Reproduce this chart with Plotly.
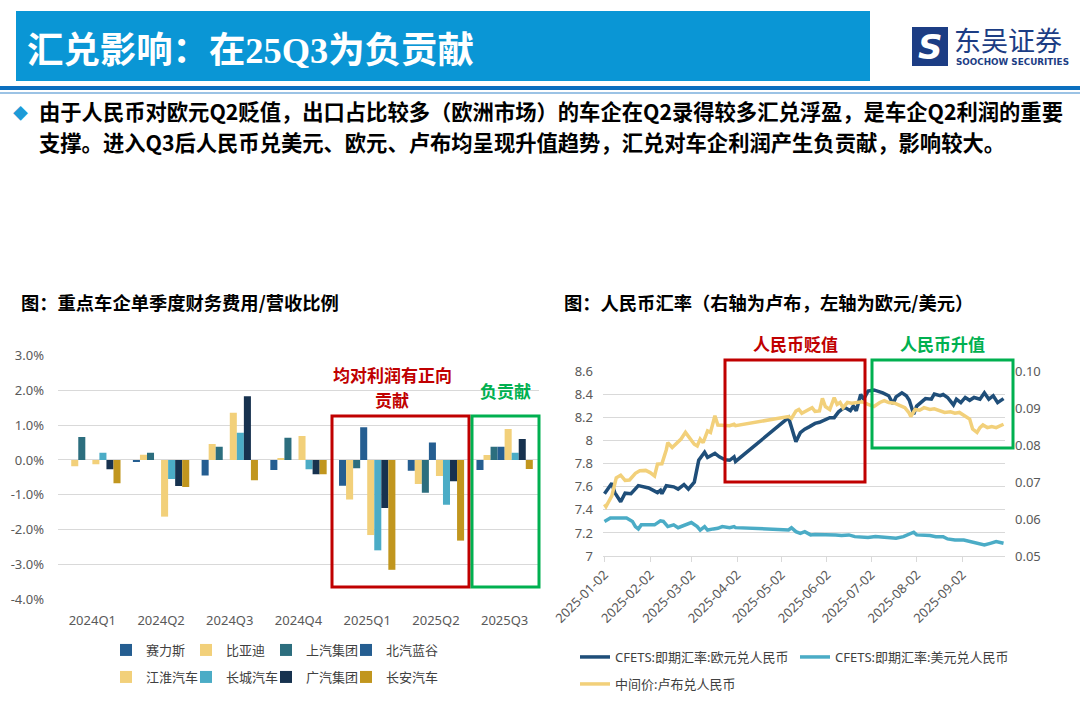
import plotly.graph_objects as go

W, H = 1080, 723

# ---- left chart: financial expense / revenue by quarter (%) ----
quarters = ['2024Q1', '2024Q2', '2024Q3', '2024Q4', '2025Q1', '2025Q2', '2025Q3']
companies = ['赛力斯', '比亚迪', '上汽集团', '北汽蓝谷', '江淮汽车', '长城汽车', '广汽集团', '长安汽车']
seres = [None, -0.06, -0.45, -0.29, -0.74, -0.31, -0.29]
byd = [-0.18, 0.15, 0.46, 0.06, -1.14, -0.69, 0.14]
saic = [0.66, 0.21, 0.38, 0.64, -0.24, -0.94, 0.38]
baic_bluepark = [None, None, None, None, 0.94, 0.50, 0.38]
jac = [-0.12, -1.63, 1.36, 0.69, -2.16, -0.46, 0.89]
great_wall = [0.21, -0.55, 0.78, -0.27, -2.60, -1.29, 0.21]
gac = [-0.27, -0.75, 1.83, -0.41, -1.38, -0.61, 0.60]
changan = [-0.67, -0.78, -0.58, -0.41, -3.16, -2.32, -0.26]
bar_series = [seres, byd, saic, baic_bluepark, jac, great_wall, gac, changan]
bar_colors = ['#255E91', '#F2D07A', '#2C6E7E', '#255E91',
              '#F2D07A', '#4BACC6', '#17324F', '#C1961E']
pct_ticks = [-4, -3, -2, -1, 0, 1, 2, 3]
pct_labels = ['-4.0%', '-3.0%', '-2.0%', '-1.0%', '0.0%', '1.0%', '2.0%', '3.0%']

# ---- right chart: CNY exchange rates ----
eur_dates = ['2025-01-02', '2025-01-07', '2025-01-09', '2025-01-13', '2025-01-16', '2025-01-20',
             '2025-01-25', '2025-02-01', '2025-02-07', '2025-02-09', '2025-02-10', '2025-02-13',
             '2025-02-18', '2025-02-21', '2025-02-25', '2025-02-28', '2025-03-04', '2025-03-07',
             '2025-03-11', '2025-03-13', '2025-03-18', '2025-03-21', '2025-03-25', '2025-03-28',
             '2025-03-31', '2025-04-01', '2025-05-07', '2025-05-12', '2025-05-15', '2025-05-18',
             '2025-05-21', '2025-05-25', '2025-05-28', '2025-06-01', '2025-06-04', '2025-06-07',
             '2025-06-10', '2025-06-14', '2025-06-18', '2025-06-20', '2025-06-22', '2025-06-25',
             '2025-06-27', '2025-06-30', '2025-07-04', '2025-07-10', '2025-07-14', '2025-07-17',
             '2025-07-19', '2025-07-23', '2025-07-26', '2025-07-28', '2025-07-31', '2025-08-02',
             '2025-08-05', '2025-08-08', '2025-08-12', '2025-08-14', '2025-08-18', '2025-08-20',
             '2025-08-23', '2025-08-27', '2025-08-29', '2025-09-01', '2025-09-04', '2025-09-07',
             '2025-09-10', '2025-09-14', '2025-09-17', '2025-09-20', '2025-09-23', '2025-09-26',
             '2025-09-30']
eur_values = [7.54, 7.63, 7.55, 7.47, 7.545, 7.54,
              7.61, 7.59, 7.55, 7.57, 7.54, 7.61,
              7.60, 7.58, 7.62, 7.58, 7.64, 7.83,
              7.90, 7.855, 7.89, 7.86, 7.835, 7.83,
              7.86, 7.82, 8.20, 7.99, 8.07, 8.10,
              8.12, 8.15, 8.16, 8.18, 8.20, 8.20,
              8.25, 8.29, 8.26, 8.30, 8.26, 8.40,
              8.36, 8.43, 8.44, 8.415, 8.39, 8.32,
              8.38, 8.415, 8.39, 8.35, 8.23, 8.30,
              8.33, 8.365, 8.36, 8.405, 8.39, 8.40,
              8.375, 8.31, 8.36, 8.33, 8.375, 8.35,
              8.375, 8.36, 8.415, 8.36, 8.39, 8.33,
              8.365]

usd_dates = ['2025-01-02', '2025-01-06', '2025-01-11', '2025-01-17', '2025-01-21', '2025-01-23',
             '2025-01-25', '2025-01-27', '2025-02-01', '2025-02-05', '2025-02-09', '2025-02-11',
             '2025-02-14', '2025-02-18', '2025-02-21', '2025-02-26', '2025-03-02', '2025-03-06',
             '2025-03-08', '2025-03-11', '2025-03-13', '2025-03-17', '2025-03-20', '2025-03-23',
             '2025-03-28', '2025-03-31', '2025-04-01', '2025-05-07', '2025-05-09', '2025-05-12',
             '2025-05-15', '2025-05-18', '2025-05-22', '2025-05-25', '2025-05-30', '2025-06-03',
             '2025-06-08', '2025-06-12', '2025-06-17', '2025-06-21', '2025-06-26', '2025-06-30',
             '2025-07-05', '2025-07-12', '2025-07-19', '2025-07-24', '2025-07-27', '2025-07-31',
             '2025-08-02', '2025-08-06', '2025-08-11', '2025-08-15', '2025-08-20', '2025-08-23',
             '2025-08-28', '2025-09-03', '2025-09-08', '2025-09-14', '2025-09-17', '2025-09-21',
             '2025-09-25', '2025-09-30']
usd_values = [7.30, 7.33, 7.33, 7.33, 7.30, 7.255,
              7.235, 7.27, 7.27, 7.27, 7.305, 7.30,
              7.255, 7.27, 7.245, 7.27, 7.29, 7.255,
              7.225, 7.255, 7.225, 7.235, 7.24, 7.255,
              7.245, 7.255, 7.246, 7.226, 7.245, 7.211,
              7.197, 7.211, 7.183, 7.186, 7.186, 7.183,
              7.183, 7.177, 7.183, 7.168, 7.16, 7.16,
              7.168, 7.16, 7.154, 7.168, 7.183, 7.206,
              7.183, 7.183, 7.177, 7.168, 7.168, 7.148,
              7.139, 7.139, 7.125, 7.11, 7.096, 7.11,
              7.125, 7.11]

rub_dates = ['2025-01-02', '2025-01-03', '2025-01-07', '2025-01-10', '2025-01-13', '2025-01-16',
             '2025-01-19', '2025-01-23', '2025-01-26', '2025-01-30', '2025-02-02', '2025-02-05',
             '2025-02-07', '2025-02-10', '2025-02-13', '2025-02-14', '2025-02-17', '2025-02-20',
             '2025-02-23', '2025-02-26', '2025-03-01', '2025-03-04', '2025-03-06', '2025-03-08',
             '2025-03-10', '2025-03-13', '2025-03-15', '2025-03-18', '2025-03-20', '2025-03-24',
             '2025-03-28', '2025-03-31', '2025-04-01', '2025-05-07', '2025-05-09', '2025-05-12',
             '2025-05-14', '2025-05-16', '2025-05-20', '2025-05-23', '2025-05-25', '2025-05-28',
             '2025-05-30', '2025-06-01', '2025-06-04', '2025-06-07', '2025-06-09', '2025-06-11',
             '2025-06-13', '2025-06-16', '2025-06-19', '2025-06-23', '2025-06-26', '2025-06-30',
             '2025-07-04', '2025-07-08', '2025-07-11', '2025-07-14', '2025-07-18', '2025-07-21',
             '2025-07-25', '2025-07-28', '2025-07-29', '2025-08-01', '2025-08-04', '2025-08-07',
             '2025-08-11', '2025-08-14', '2025-08-18', '2025-08-21', '2025-08-25', '2025-08-28',
             '2025-08-31', '2025-09-04', '2025-09-07', '2025-09-09', '2025-09-12', '2025-09-14',
             '2025-09-16', '2025-09-19', '2025-09-22', '2025-09-25', '2025-09-30']
rub_values = [0.0640, 0.0634, 0.0663, 0.0712, 0.0719, 0.0705,
              0.0706, 0.0724, 0.0731, 0.0732, 0.0726, 0.0717,
              0.0749, 0.0750, 0.0788, 0.0807, 0.0794, 0.0807,
              0.0817, 0.0835, 0.0817, 0.0803, 0.0798, 0.0817,
              0.0807, 0.0839, 0.0835, 0.0880, 0.0855, 0.0855,
              0.0853, 0.0857, 0.0853, 0.0878, 0.0873, 0.0893,
              0.0897, 0.0887, 0.0897, 0.0902, 0.0892, 0.0893,
              0.0927, 0.0905, 0.0897, 0.0929, 0.0911, 0.0916,
              0.0902, 0.0916, 0.0914, 0.0916, 0.0918, 0.0911,
              0.0905, 0.0916, 0.0921, 0.0916, 0.0914, 0.0909,
              0.0902, 0.0887, 0.0878, 0.0897, 0.0895, 0.0902,
              0.0897, 0.0899, 0.0893, 0.0889, 0.0891, 0.0887,
              0.0889, 0.0880, 0.0871, 0.0844, 0.0835, 0.0848,
              0.0855, 0.0848, 0.0851, 0.0848, 0.0857]

month_ticks = ['2025-01-02', '2025-02-02', '2025-03-02', '2025-04-02', '2025-05-02',
               '2025-06-02', '2025-07-02', '2025-08-02', '2025-09-02']
eur_ticks = [7, 7.2, 7.4, 7.6, 7.8, 8, 8.2, 8.4, 8.6]
eur_labels = ['7', '7.2', '7.4', '7.6', '7.8', '8', '8.2', '8.4', '8.6']
rub_ticks = [0.05, 0.06, 0.07, 0.08, 0.09, 0.10]
rub_labels = ['0.05', '0.06', '0.07', '0.08', '0.09', '0.10']

FONT = 'Noto Sans, Noto Sans CJK SC'
CJK = 'Noto Sans CJK SC'
TICK = dict(family=FONT, size=13, color='#595959')


def px(x):
    return x / W


def py(y):
    return 1 - y / H


fig = go.Figure()

# one small legend per bar series so the 4x2 grid lines up like the original
bar_legend_x = [106, 186, 266, 346]
bar_legend_y = [650, 677]
legend_style = dict(orientation='h', xanchor='left', yanchor='middle',
                    bgcolor='rgba(0,0,0,0)', font=dict(family=FONT, size=13, color='#404040'),
                    traceorder='normal')
legends = {}
for i, (name, vals, col) in enumerate(zip(companies, bar_series, bar_colors)):
    key = 'legend' if i == 0 else 'legend%d' % (i + 1)
    legends[key] = dict(x=px(bar_legend_x[i % 4]), y=py(bar_legend_y[i // 4]), **legend_style)
    fig.add_trace(go.Bar(
        x=quarters, y=vals, name=name, marker=dict(color=col, line=dict(width=0)),
        xaxis='x', yaxis='y', legend=key))

fig.add_trace(go.Scatter(x=eur_dates, y=eur_values, name='CFETS:即期汇率:欧元兑人民币',
                         mode='lines', line=dict(color='#1F4E79', width=3.5),
                         xaxis='x2', yaxis='y2', legend='legend9'))
fig.add_trace(go.Scatter(x=usd_dates, y=usd_values, name='CFETS:即期汇率:美元兑人民币',
                         mode='lines', line=dict(color='#4BACC6', width=3.5),
                         xaxis='x2', yaxis='y2', legend='legend9'))
fig.add_trace(go.Scatter(x=rub_dates, y=rub_values, name='中间价:卢布兑人民币',
                         mode='lines', line=dict(color='#F2D07A', width=3.5),
                         xaxis='x2', yaxis='y3', legend='legend10'))
legends['legend9'] = dict(x=px(575), y=py(657), entrywidth=175, **legend_style)
legends['legend10'] = dict(x=px(575), y=py(684), **legend_style)

fig.update_layout(
    width=W, height=H, margin=dict(l=0, r=0, t=0, b=0, autoexpand=False),
    paper_bgcolor='white', plot_bgcolor='white',
    barmode='group', bargap=0.18, bargroupgap=0,
    font=dict(family=FONT, color='#404040'),
    xaxis=dict(domain=[px(58), px(539)], anchor='y', type='category', automargin=False,
               showgrid=False, showline=False, ticks='', tickfont=TICK, ticklabelstandoff=12),
    yaxis=dict(domain=[py(599), py(355.7)], anchor='x', range=[-4, 3], automargin=False,
               tickvals=pct_ticks, ticktext=pct_labels, tickfont=TICK,
               gridcolor='#D9D9D9', gridwidth=1, zeroline=False, showline=False,
               ticklabelstandoff=13),
    xaxis2=dict(domain=[px(603), px(1005)], anchor='y2', type='date', automargin=False,
                range=['2025-01-01', '2025-10-01'], tickvals=month_ticks, ticktext=month_ticks,
                tickangle=-45, tickfont=TICK, showgrid=False, showline=True,
                linecolor='#D9D9D9', ticks='outside', ticklen=5, tickcolor='#D9D9D9'),
    yaxis2=dict(domain=[py(556), py(371.5)], anchor='x2', range=[7, 8.6], automargin=False,
                tickvals=eur_ticks, ticktext=eur_labels, tickfont=TICK,
                gridcolor='#D9D9D9', zeroline=False, showline=False, ticklabelstandoff=9),
    yaxis3=dict(overlaying='y2', side='right', anchor='x2', range=[0.05, 0.10], automargin=False,
                tickvals=rub_ticks, ticktext=rub_labels, tickfont=TICK,
                showgrid=False, zeroline=False, showline=False, ticklabelstandoff=9),
    showlegend=True,
    **legends,
)


def box(x0, y0, x1, y1, color, width=3, fill=None):
    fig.add_shape(type='rect', xref='paper', yref='paper',
                  x0=px(x0), x1=px(x1), y0=py(y1), y1=py(y0),
                  line=dict(color=color, width=width),
                  fillcolor=fill if fill else 'rgba(0,0,0,0)', layer='above')


def text(x, y, s, size, color='black', xanchor='left', family=CJK, yanchor='middle'):
    fig.add_annotation(x=px(x), y=py(y), xref='paper', yref='paper', text=s,
                       showarrow=False, xanchor=xanchor, yanchor=yanchor, borderpad=0,
                       font=dict(family=family, size=size, color=color))


# header band
box(16, 11, 870, 81, '#0A96D5', width=0, fill='#0A96D5')
fig.add_shape(type='line', xref='paper', yref='paper', x0=0, x1=1, y0=py(88), y1=py(88),
              line=dict(color='#0B6FBF', width=4))
fig.add_shape(type='line', xref='paper', yref='paper', x0=0, x1=1, y0=py(93), y1=py(93),
              line=dict(color='#9CC3E5', width=2))
text(26, 47, '<b>汇兑影响：在<span style="font-family:Liberation Serif">25Q3</span>为负贡献</b>',
     36.4, 'white')

# logo
box(912, 27, 948, 66, '#1C3D84', width=0, fill='#1C3D84')
text(930, 47, '<b><i>S</i></b>', 34, 'white', xanchor='center', family='DejaVu Sans')
text(953, 39, '东吴证券', 27, '#1C3D84')
text(955, 62, '<b>SOOCHOW SECURITIES</b>', 8.8, '#1C3D84', family='DejaVu Sans')

# bullet text
text(12, 112, '◆', 15, '#1D9BD7')
text(38, 127, '<b>由于人民币对欧元Q2贬值，出口占比较多（欧洲市场）的车企在Q2录得较多汇兑浮盈，是车企Q2利润的重要</b>',
     21.3, yanchor='bottom')
text(38, 125, '<b>支撑。进入Q3后人民币兑美元、欧元、卢布均呈现升值趋势，汇兑对车企利润产生负贡献，影响较大。</b>',
     21.3, yanchor='top')

# chart titles
text(20, 302, '<b>图：重点车企单季度财务费用/营收比例</b>', 18.3)
text(563, 302, '<b>图：人民币汇率（右轴为卢布，左轴为欧元/美元）</b>', 18.3)

# highlight boxes
box(332, 416, 469, 587, '#C00000')
box(472, 416, 539, 587, '#00B050')
text(392, 388, '<b>均对利润有正向</b>', 17, '#C00000', xanchor='center', yanchor='bottom')
text(392, 386, '<b>贡献</b>', 17, '#C00000', xanchor='center', yanchor='top')
text(505, 390, '<b>负贡献</b>', 17, '#00B050', xanchor='center')

box(725, 360, 865, 482, '#C00000')
box(872, 360, 1013, 448, '#00B050')
text(795, 343, '<b>人民币贬值</b>', 17, '#C00000', xanchor='center')
text(942, 343, '<b>人民币升值</b>', 17, '#00B050', xanchor='center')

fig.write_html('out.html', config={'displayModeBar': False},
               post_script="document.body.style.margin='0';")
